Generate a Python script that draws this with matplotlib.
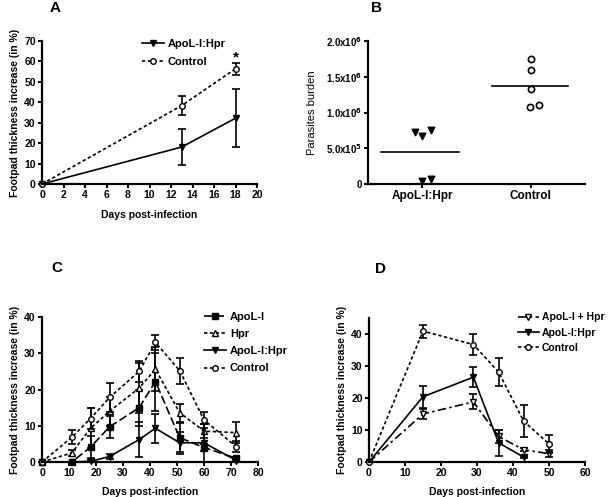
import matplotlib
matplotlib.use("Agg")
import matplotlib.pyplot as plt
import numpy as np

plt.rcParams['font.family'] = ['Liberation Sans', 'DejaVu Sans']
plt.rcParams['font.weight'] = 'bold'
plt.rcParams['axes.labelweight'] = 'bold'
plt.rcParams['mathtext.default'] = 'bf'
plt.rcParams['font.size'] = 7.5

# ---- panel A ----
a_days = [0, 13, 18]
a_hpr = [0, 18.1, 32.2]
a_hpr_err = [0, 8.6, 14.3]
a_ctrl = [0, 38.4, 56.4]
a_ctrl_err = [0, 4.6, 3.0]

# ---- panel B ----
b_cats = ["ApoL-I:Hpr", "Control"]
b_hpr = [0.726e6, 0.67e6, 0.753e6, 0.047e6, 0.065e6]
b_ctrl = [1.753e6, 1.59e6, 1.326e6, 1.07e6, 1.10e6]
b_yticks = [0, 5e5, 1e6, 1.5e6, 2e6]
b_yticklabels = ["0", r"5.0x10$^5$", r"1.0x10$^6$", r"1.5x10$^6$", r"2.0x10$^6$"]

# ---- panel C ----
c_days = [0, 11, 18, 25, 36, 42, 51, 60, 72]
c_apol = [0, 0, 4.1, 9.7, 15.0, 22.2, 6.7, 4.0, 1.0]
c_apol_err = [0, 0, 3.0, 3.0, 5.0, 8.0, 4.0, 1.0, 0.5]
c_hpr = [0, 2.5, 9.3, 14.0, 20.4, 25.6, 13.6, 8.5, 8.1]
c_hpr_err = [0, 0.8, 5.5, 4.0, 7.0, 6.0, 2.5, 2.0, 2.8]
c_apolhpr = [0, 0, 0.2, 1.5, 6.2, 9.3, 5.3, 5.3, 0.4]
c_apolhpr_err = [0, 0, 0.3, 0.8, 4.9, 4.0, 3.0, 5.3, 0.3]
c_ctrl = [0, 6.8, 12.0, 17.8, 25.0, 33.0, 25.2, 11.6, 4.2]
c_ctrl_err = [0, 1.9, 2.8, 3.9, 3.0, 2.0, 3.6, 2.2, 1.5]

# ---- panel D ----
d_days = [0, 15, 29, 36, 43, 50]
d_plus = [0, 15.0, 18.8, 8.0, 3.8, 2.6]
d_plus_err = [0, 1.5, 2.3, 2.0, 0.5, 1.0]
d_days2 = [0, 15, 29, 36, 43]
d_apolhpr = [0, 20.4, 26.5, 6.0, 1.5]
d_apolhpr_err = [0, 3.4, 3.1, 4.0, 0.3]
d_ctrl = [0, 40.9, 36.7, 28.1, 12.7, 5.7]
d_ctrl_err = [0, 2.0, 3.4, 4.5, 5.0, 2.8]

fig = plt.figure(figsize=(6.08, 4.97), dpi=100)

W, H = 608, 497
def box(l, r, t, b):
    return [l / W, 1 - b / H, (r - l) / W, (b - t) / H]

def style(ax):
    for s in ["top", "right"]:
        ax.spines[s].set_visible(False)
    for s in ["left", "bottom"]:
        ax.spines[s].set_linewidth(1.6)
    ax.tick_params(width=1.4, length=3, pad=1.5, labelsize=7.5)
    for t in ax.get_xticklabels() + ax.get_yticklabels():
        t.set_fontweight("bold")

DOT = (0, (2.0, 1.5))
DASH = (0, (5, 2))
DASHDOT = (0, (5, 2, 1.5, 2))

def series(ax, x, y, e, ls, mk, mfc, label, ms=4.5):
    ax.errorbar(x, y, yerr=e, color="black", ls="none", capsize=3,
                elinewidth=1.2, capthick=1.2, clip_on=False)
    ax.plot(x, y, color="black", ls=ls, lw=1.2, marker=mk, ms=ms,
            mfc=mfc, mec="black", mew=1.0, label=label, clip_on=False)

def legend(ax, x, y, sp, fs=8):
    leg = ax.legend(loc="upper left", bbox_to_anchor=(x, y), frameon=False,
                    handlelength=2.0, handletextpad=0.3, labelspacing=sp,
                    fontsize=fs, borderpad=0.2)
    for t in leg.get_texts():
        t.set_fontweight("bold")

# A
axA = fig.add_axes(box(42, 257, 41, 184))
series(axA, a_days, a_hpr, a_hpr_err, "-", "v", "black", "ApoL-I:Hpr")
series(axA, a_days, a_ctrl, a_ctrl_err, DOT, "o", "white", "Control", ms=4)
axA.set_xlim(0, 20)
axA.set_ylim(0, 70)
axA.set_xticks(range(0, 21, 2))
axA.set_yticks(range(0, 71, 10))
axA.text(18, 58.5, "*", ha="center", va="bottom", fontsize=11)
axA.set_xlabel("Days post-infection", labelpad=7)
axA.set_ylabel("Footpad thickness increase (in %)", labelpad=3)
style(axA)
legend(axA, 0.43, 1.07, 0.7)
fig.text(55 / W, 1 - 8 / H, "A", ha="center", va="center", fontsize=11)

# B
axB = fig.add_axes(box(368, 585, 41, 184))
hx = [0.215, 0.25, 0.29, 0.25, 0.29]
cx = [0.75, 0.75, 0.75, 0.745, 0.79]
axB.scatter(hx, b_hpr, marker="v", s=22, color="black", clip_on=False)
axB.scatter(cx, b_ctrl, marker="o", s=20, facecolors="white",
            edgecolors="black", linewidths=1.2, clip_on=False)
axB.plot([0.06, 0.42], [np.mean(b_hpr)] * 2, color="black", lw=1.2)
axB.plot([0.57, 0.92], [np.mean(b_ctrl)] * 2, color="black", lw=1.2)
axB.set_xlim(0, 1)
axB.set_ylim(0, 2e6)
axB.set_xticks([0.25, 0.75])
axB.set_xticklabels(b_cats)
axB.set_yticks(b_yticks)
axB.set_yticklabels(b_yticklabels)
axB.set_ylabel("Parasites burden", fontweight="normal", fontsize=8, labelpad=6)
style(axB)
axB.tick_params(axis="x", labelsize=8.5)
axB.tick_params(axis="y", labelsize=7)
fig.text(377 / W, 1 - 8 / H, "B", ha="center", va="center", fontsize=11)

# C
axC = fig.add_axes(box(42, 258, 317, 462))
series(axC, c_days, c_apol, c_apol_err, DASH, "s", "black", "ApoL-I", ms=4)
series(axC, c_days, c_hpr, c_hpr_err, DOT, "^", "white", "Hpr")
series(axC, c_days, c_apolhpr, c_apolhpr_err, "-", "v", "black", "ApoL-I:Hpr")
series(axC, c_days, c_ctrl, c_ctrl_err, DOT, "o", "white", "Control", ms=4)
axC.set_xlim(0, 80)
axC.set_ylim(0, 40)
axC.set_xticks(range(0, 81, 10))
axC.set_yticks(range(0, 41, 10))
axC.set_xlabel("Days post-infection", labelpad=6)
axC.set_ylabel("Footpad thickness increase (in %)", labelpad=3)
style(axC)
legend(axC, 0.715, 1.09, 0.65)
fig.text(57 / W, 1 - 268 / H, "C", ha="center", va="center", fontsize=11)

# D
axD = fig.add_axes(box(369, 585, 318, 462))
series(axD, d_days, d_plus, d_plus_err, DASHDOT, "v", "white", "ApoL-I + Hpr")
series(axD, d_days2, d_apolhpr, d_apolhpr_err, "-", "v", "black", "ApoL-I:Hpr")
series(axD, d_days, d_ctrl, d_ctrl_err, DOT, "o", "white", "Control", ms=4)
axD.set_xlim(0, 60)
axD.set_ylim(0, 45)
axD.set_xticks(range(0, 61, 10))
axD.set_yticks(range(0, 41, 10))
axD.set_xlabel("Days post-infection", labelpad=6)
axD.set_ylabel("Footpad thickness increase (in %)", labelpad=3)
style(axD)
legend(axD, 0.655, 1.09, 0.5, fs=7.5)
fig.text(380 / W, 1 - 269 / H, "D", ha="center", va="center", fontsize=11)

fig.savefig("out.png", dpi=100)
